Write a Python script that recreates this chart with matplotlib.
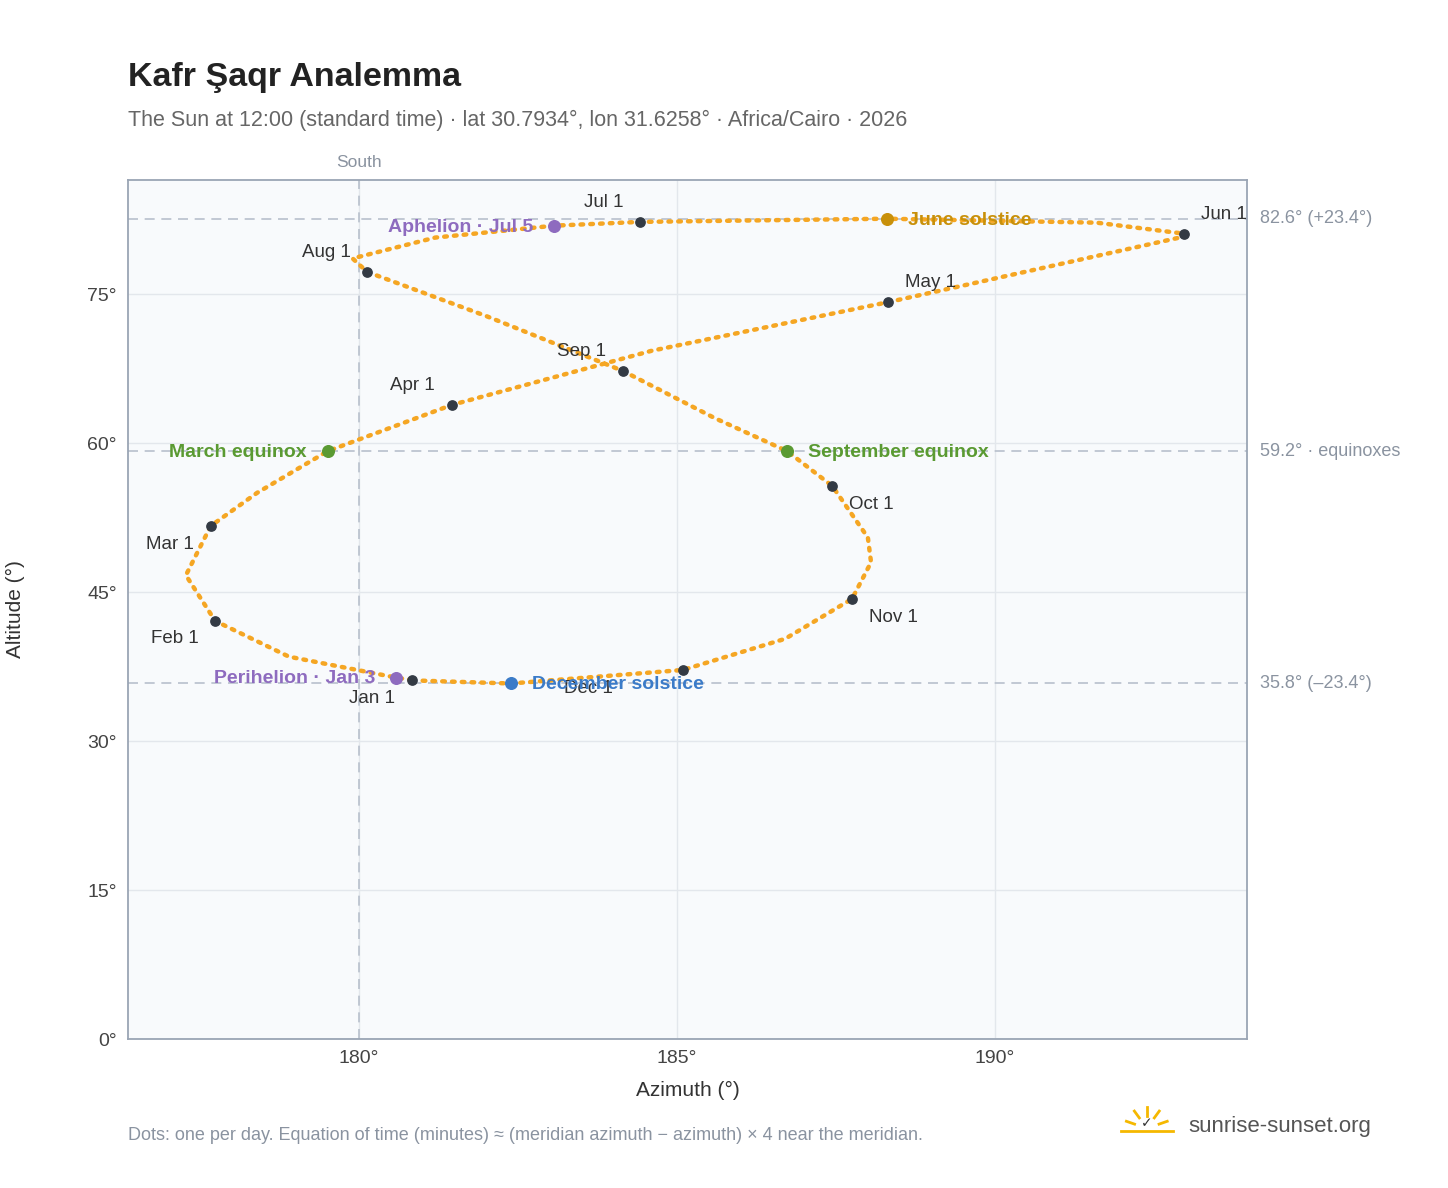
import matplotlib
matplotlib.use("Agg")
import matplotlib.pyplot as plt
import numpy as np
plt.rcParams['font.family'] = ['Liberation Sans', 'DejaVu Sans']

# Sun position at 12:00 (date label, azimuth, altitude)
path_dates = ["Jan 1","Jan 3","Jan 15","Feb 1","Feb 12","Mar 1","Mar 10","Mar 20","Apr 1","Apr 15",
              "May 1","May 15","May 28","Jun 1","Jun 10","Jun 21","Jul 1","Jul 5","Jul 15","Jul 26",
              "Aug 1","Aug 15","Sep 1","Sep 15","Sep 22","Oct 1","Oct 15","Oct 22","Nov 1","Nov 15",
              "Dec 1","Dec 21","Dec 31"]
path_az = [180.83,180.58,178.9,177.74,177.28,177.67,178.4,179.51,181.46,184.6,
           188.32,191.0,192.9,193.0,191.6,188.3,184.42,183.07,181.2,179.9,
           180.13,182.0,184.15,185.6,186.73,187.44,188.0,188.05,187.75,186.7,
           185.09,182.39,180.9]
path_alt = [36.15,36.4,38.5,42.1,46.7,51.66,55.0,59.2,63.85,69.3,
            74.2,78.0,80.7,81.07,82.2,82.6,82.28,81.9,80.7,78.6,
            77.24,72.8,67.27,62.5,59.2,55.69,50.5,48.0,44.31,40.3,
            37.16,35.8,36.1]

month_labels = ["Jan 1","Feb 1","Mar 1","Apr 1","May 1","Jun 1","Jul 1","Aug 1","Sep 1","Oct 1","Nov 1","Dec 1"]
month_az = [180.83,177.74,177.67,181.46,188.32,192.97,184.42,180.13,184.15,187.44,187.75,185.09]
month_alt = [36.15,42.1,51.66,63.85,74.2,81.07,82.28,77.24,67.27,55.69,44.31,37.16]
month_off = [(-12,-13),(-12,-13),(-12,-13),(-12,14),(12,14),(12,14),(-12,14),(-12,14),(-12,14),(12,-13),(12,-13),(-50,-13)]

events = ["June solstice","December solstice","March equinox","September equinox","Perihelion · Jan 3","Aphelion · Jul 5"]
event_az = [188.3,182.39,179.51,186.73,180.58,183.07]
event_alt = [82.6,35.8,59.2,59.2,36.4,81.9]
event_col = ["#c8900a","#3b7bc8","#5a9a32","#5a9a32","#8e6bbf","#8e6bbf"]
event_side = ["r","r","l","r","l","l"]

ref_alts = [82.6,59.2,35.8]
ref_labels = ["82.6° (+23.4°)","59.2° · equinoxes","35.8° (–23.4°)"]

fig = plt.figure(figsize=(14.48,11.88), dpi=100)
ax = fig.add_axes([0.0884,0.1254,0.7728,0.7231])
ax.set_facecolor("#f8fafc")
ax.set_xlim(176.37,193.96)
ax.set_ylim(0,86.5)
ax.set_xticks([180,185,190]); ax.set_xticklabels(["180°","185°","190°"])
ax.set_yticks([0,15,30,45,60,75]); ax.set_yticklabels(["0°","15°","30°","45°","60°","75°"])
ax.grid(color="#e3e7ec", lw=1)
ax.set_axisbelow(True)
for s in ax.spines.values(): s.set_color("#9aa5b4"); s.set_linewidth(1.3)
ax.tick_params(colors="#444", labelsize=14, length=0, pad=8)
ax.set_xlabel("Azimuth (°)", fontsize=15, color="#333", labelpad=10)
ax.set_ylabel("Altitude (°)", fontsize=15, color="#333", labelpad=45)

for a, l in zip(ref_alts, ref_labels):
    ax.axhline(a, color="#b8c0cc", ls=(0,(6,4)), lw=1.2, zorder=1)
    ax.annotate(l, (1,a), xycoords=("axes fraction","data"), xytext=(9,0), textcoords="offset points",
                va="center", fontsize=13, color="#8a93a0", annotation_clip=False)
ax.axvline(180, color="#b8c0cc", ls=(0,(6,4)), lw=1.2, zorder=1)
ax.annotate("South", (180,1), xycoords=("data","axes fraction"), xytext=(0,9), textcoords="offset points",
            ha="center", fontsize=12.5, color="#8a93a0", annotation_clip=False)

ax.plot(path_az, path_alt, color="#f5a623", lw=3.2, ls=(0,(0.6,1.6)), dash_capstyle="round", zorder=2)
ax.scatter(month_az, month_alt, s=45, color="#333a44", zorder=4)
for l, x, y, o in zip(month_labels, month_az, month_alt, month_off):
    ax.annotate(l, (x,y), xytext=o, textcoords="offset points", fontsize=13.5, color="#333",
                ha="right" if o[0] < 0 else "left", va="center")
for l, x, y, c, sd in zip(events, event_az, event_alt, event_col, event_side):
    ax.scatter([x],[y], s=70, color=c, zorder=5)
    ax.annotate(l, (x,y), xytext=(15 if sd=="r" else -15, -1), textcoords="offset points", fontsize=14,
                color=c, weight="bold", ha="left" if sd=="r" else "right", va="center")

fig.text(0.0884, 0.928, "Kafr Şaqr Analemma", fontsize=24.5, weight="bold", color="#222")
fig.text(0.0884, 0.894, "The Sun at 12:00 (standard time) · lat 30.7934°, lon 31.6258° · Africa/Cairo · 2026",
         fontsize=15.5, color="#666")
fig.text(0.0884, 0.040, "Dots: one per day. Equation of time (minutes) ≈ (meridian azimuth − azimuth) × 4 near the meridian.",
         fontsize=13, color="#8a93a0")
fig.text(0.821, 0.047, "sunrise-sunset.org", fontsize=16, color="#555")
# small sun logo
lx, ly = 0.792, 0.050
for ang in np.linspace(20,160,5):
    r = np.radians(ang)
    fig.add_artist(plt.Line2D([lx+0.009*np.cos(r), lx+0.015*np.cos(r)],
                              [ly+0.011*np.sin(r), ly+0.018*np.sin(r)], color="#f5b800", lw=2))
fig.add_artist(plt.Line2D([lx-0.018, lx+0.018],[ly-0.002, ly-0.002], color="#f5b800", lw=2))
fig.text(lx, ly-0.001, "✓", fontsize=10, ha="center", va="bottom", color="#333", family="DejaVu Sans")

fig.savefig("out.png", dpi=100)
